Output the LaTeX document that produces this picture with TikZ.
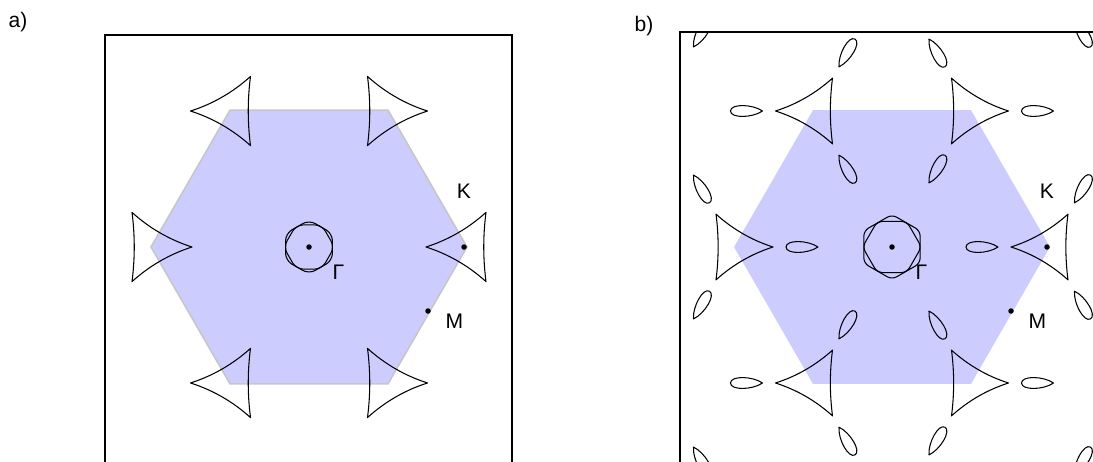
\documentclass[tikz,border=0pt]{standalone}
\usepackage{fontspec}
\setmainfont{Liberation Sans}
\usetikzlibrary{positioning}
\tikzset{
	kpocket/.pic={
		\draw[pocket] (-40,0) .. controls (-17.5,7.2) and (2.5,18.8) .. (20,34.6)
			.. controls (17,11.5) and (17,-11.5) .. (20,-34.6)
			.. controls (2.5,-18.8) and (-17.5,-7.2) .. (-40,0) -- cycle;
	},
	epocket/.pic={
		\draw[pocket] (16,0) .. controls (6,7) and (-16,7.5) .. (-16,0)
			.. controls (-16,-7.5) and (6,-7) .. (16,0) -- cycle;
	},
}
\begin{document}
\begin{tikzpicture}[
		x=0.02cm, y=0.02cm,
		pocket/.style={draw=black, line width=0.6pt, line join=round},
		bz/.style={fill=blue!20},
		frame/.style={draw=black, line width=0.6pt},
		dot/.style={circle, fill=black, inner sep=0pt, minimum size=0.11cm},
		lbl/.style={inner sep=0pt, font=\fontsize{12}{14}\selectfont},
		]
		\useasboundingbox (0,0) rectangle (1093,461);
		\clip (0,0) rectangle (1093,461);

		\node[lbl] (pa) at (18,439) {a)};
		\node[lbl] (pb) at (644,435) {b)};

		% panel a
		\draw[frame] (105,-5) rectangle (512,426);
		\begin{scope}[shift={(309,214)}]
			\filldraw[bz, draw=gray!45, line width=0.9pt] (0:158) -- (60:158) -- (120:158) -- (180:158) -- (240:158) -- (300:158) -- cycle;
			\foreach \a in {0,120,240} {
				\pic at (\a:157) {kpocket};
				\pic[rotate=180] at (\a+60:157) {kpocket};
			}
			\draw[pocket, rounded corners=4pt] (0:25.5) \foreach \a in {60,120,...,300} {-- (\a:25.5)} -- cycle;
			\draw[pocket, rounded corners=4pt] (30:27) \foreach \a in {90,150,...,330} {-- (\a:27)} -- cycle;
			\node[dot] (Ga) at (0,0) {};
			\node[dot] (Ka) at (0:155) {};
			\node[dot] (Ma) at (119,-64) {};
			\node[lbl, below right=0.3cm and 0.42cm of Ga] (lGa) {Γ};
			\node[lbl, above=0.9cm of Ka] (lKa) {K};
			\node[lbl, below right=0cm and 0.3cm of Ma] (lMa) {M};
		\end{scope}

		% panel b
		\begin{scope}[shift={(892,214)}]
			\clip (-212,-219) rectangle (208,215);
			\fill[bz] (0:158) -- (60:158) -- (120:158) -- (180:158) -- (240:158) -- (300:158) -- cycle;
			\foreach \m in {-1,0,1}
				\foreach \n in {-2,...,2} {
					\begin{scope}[shift={(235.5*\m, 136*\m+272*\n)}]
						\pic[scale=0.95] at (0:157) {kpocket};
						\pic[scale=0.95, rotate=180] at (180:157) {kpocket};
						\foreach \k in {0,...,5}
							\pic[rotate=-120*\k] at (60*\k:90) {epocket};
					\end{scope}
				}
			\draw[pocket, rounded corners=3pt] (0:29.5) \foreach \a in {60,120,...,300} {-- (\a:29.5)} -- cycle;
			\draw[pocket, rounded corners=3pt] (30:32.5) \foreach \a in {90,150,...,330} {-- (\a:32.5)} -- cycle;
			\node[dot] (Gb) at (0,0) {};
			\node[dot] (Kb) at (0:155) {};
			\node[dot] (Mb) at (119,-64) {};
			\node[lbl, below right=0.3cm and 0.42cm of Gb] (lGb) {Γ};
			\node[lbl, above=0.9cm of Kb] (lKb) {K};
			\node[lbl, below right=0cm and 0.3cm of Mb] (lMb) {M};
		\end{scope}
		\draw[frame] (680,-5) rectangle (1100,429);
	\end{tikzpicture}
\end{document}
